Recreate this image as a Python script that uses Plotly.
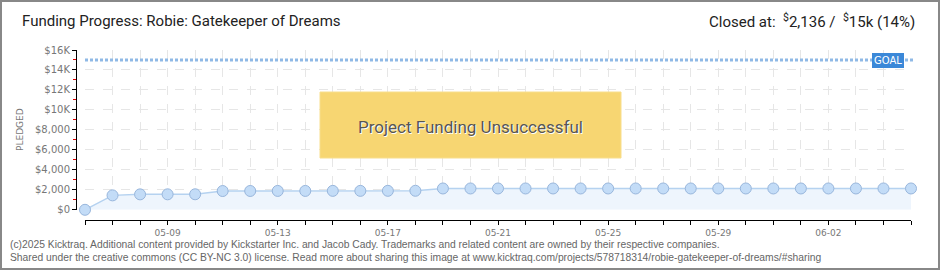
import plotly.graph_objects as go

# ---------------- data ----------------
dates = ["2025-05-%02d" % d for d in range(6, 32)] + ["2025-06-%02d" % d for d in range(1, 6)]
pledged = [0, 1445, 1545, 1550, 1555, 1880, 1885, 1890, 1890, 1895, 1895, 1900, 1905,
           2136, 2136, 2136, 2136, 2136, 2136, 2136, 2136, 2136, 2136, 2136, 2136,
           2136, 2136, 2136, 2136, 2136, 2136]
goal = 15000
x_label_dates = ["2025-05-09", "2025-05-13", "2025-05-17", "2025-05-21",
                 "2025-05-25", "2025-05-29", "2025-06-02"]
x_label_text = ["05-09", "05-13", "05-17", "05-21", "05-25", "05-29", "06-02"]
y_tick_vals = [0, 2000, 4000, 6000, 8000, 10000, 12000, 14000, 16000]
y_tick_text = ["$0", "$2,000", "$4,000", "$6,000", "$8,000", "$10K", "$12K", "$14K", "$16K"]
title = "Funding Progress: Robie: Gatekeeper of Dreams"
status = "Project Funding Unsuccessful"
footer1 = ("(c)2025 Kicktraq. Additional content provided by Kickstarter Inc. and Jacob Cady. "
           "Trademarks and related content are owned by their respective companies.")
footer2 = ("Shared under the creative commons (CC BY-NC 3.0) license. Read more about sharing this "
           "image at www.kicktraq.com/projects/578718314/robie-gatekeeper-of-dreams/#sharing")

# ---------------- layout helpers ----------------
W, H = 940, 270
L, R, T, B = 60, 20, 40, 40
PW, PH = W - L - R, H - T - B
DAY_MS = 86400000


def px(p):
    return (p - L) / PW


def py(p):
    return (H - B - p) / PH


fig = go.Figure()

fig.add_trace(go.Scatter(
    x=dates, y=pledged, mode="lines+markers",
    line=dict(color="#b5d2f0", width=1.5),
    marker=dict(size=11, color="#c3dcf7", line=dict(color="#98b6dc", width=1)),
    fill="tozeroy", fillcolor="#eef5fd", cliponaxis=False,
    hoverinfo="skip", showlegend=False,
))
# invisible trace for the offset axes
fig.add_trace(go.Scatter(
    x=dates, y=pledged, xaxis="x2", yaxis="y2", mode="markers",
    marker=dict(opacity=0), hoverinfo="skip", showlegend=False,
))

grid = dict(showgrid=True, gridcolor="#e6e6e6", griddash="dash", gridwidth=1)
tickfont = dict(family="DejaVu Sans", size=10, color="#777777")
xtickfont = dict(family="DejaVu Sans", size=9, color="#777777")

fig.update_layout(
    width=W, height=H,
    margin=dict(l=L, r=R, t=T, b=B),
    paper_bgcolor="white", plot_bgcolor="white",
    xaxis=dict(domain=[px(85), px(911)], range=[dates[0], dates[-1]],
               tickmode="array", tickvals=dates, showticklabels=False, ticks="",
               showline=False, zeroline=False, **grid),
    yaxis=dict(domain=[py(209.8), py(50)], range=[0, 16000],
               tickmode="array", tickvals=y_tick_vals, showticklabels=False, ticks="",
               showline=False, zeroline=False, **grid),
    xaxis2=dict(overlaying="x", anchor="free", position=py(220), range=[dates[0], dates[-1]],
                tickmode="array", tickvals=x_label_dates, ticktext=x_label_text,
                ticks="outside", ticklen=4, tickcolor="#000", tickwidth=1,
                minor=dict(ticks="outside", tick0=dates[0], dtick=DAY_MS, ticklen=4,
                           tickcolor="#000", tickwidth=1, showgrid=False),
                showline=True, linecolor="#000", linewidth=1,
                showgrid=False, zeroline=False, tickfont=xtickfont),
    yaxis2=dict(overlaying="y", anchor="free", position=px(76), range=[0, 16000],
                tickmode="array", tickvals=y_tick_vals, ticktext=y_tick_text,
                ticks="outside", ticklen=4, tickcolor="#000", tickwidth=1,
                showline=True, linecolor="#000", linewidth=1,
                minor=dict(ticks="outside", dtick=1000, ticklen=3, tickcolor="#e00000", showgrid=False),
                showgrid=False, zeroline=False, tickfont=tickfont),
)

shapes = [
    # goal line
    dict(type="line", xref="x domain", yref="y", x0=0, x1=1.003, y0=goal, y1=goal,
         line=dict(color="#8fb9e6", width=3, dash="3px,2px"), layer="above"),
    # status box
    dict(type="rect", xref="paper", yref="paper", x0=px(320), x1=px(621), y0=py(158), y1=py(92),
         fillcolor="#f7d672", line=dict(color="#f8de8c", width=1), layer="above"),
    # outer frame
    dict(type="rect", xref="paper", yref="paper", x0=px(1), x1=px(939), y0=py(269), y1=py(1),
         line=dict(color="#888888", width=2), layer="above"),
]
fig.update_layout(shapes=shapes)

pct = round(pledged[-1] / goal * 100)
closed = ("Closed at:  <sup>$</sup>{:,} /  <sup>$</sup>{}k ({}%)"
          .format(pledged[-1], goal // 1000, pct))

ann = [
    dict(text=title, x=px(20), y=py(21), xanchor="left", yanchor="middle",
         font=dict(family="Roboto", size=15, color="#222222")),
    dict(text=closed, x=px(917), y=py(21), xanchor="right", yanchor="middle",
         font=dict(family="Roboto", size=15, color="#222222")),
    dict(text="PLEDGED", x=px(20), y=py(130), xanchor="center", yanchor="middle", textangle=-90,
         font=dict(family="DejaVu Sans", size=9, color="#777777")),
    dict(text="GOAL", x=px(888), y=py(60), xanchor="center", yanchor="middle",
         bgcolor="#3b88d8", bordercolor="#3b88d8", borderpad=1, borderwidth=1,
         font=dict(family="DejaVu Sans", size=10, color="white")),
    dict(text=status, x=px(470), y=py(127), xanchor="center", yanchor="middle",
         font=dict(family="Roboto", size=17, color="#555555", shadow="1px 1px 0px #ffffff")),
    dict(text=footer1, x=px(8), y=py(244), xanchor="left", yanchor="middle",
         font=dict(family="Liberation Sans", size=10.3, color="#666666")),
    dict(text=footer2, x=px(8), y=py(257), xanchor="left", yanchor="middle",
         font=dict(family="Liberation Sans", size=10.3, color="#666666")),
]
for a in ann:
    a.update(xref="paper", yref="paper", showarrow=False)
fig.update_layout(annotations=ann)

fig.write_html("out.html")
